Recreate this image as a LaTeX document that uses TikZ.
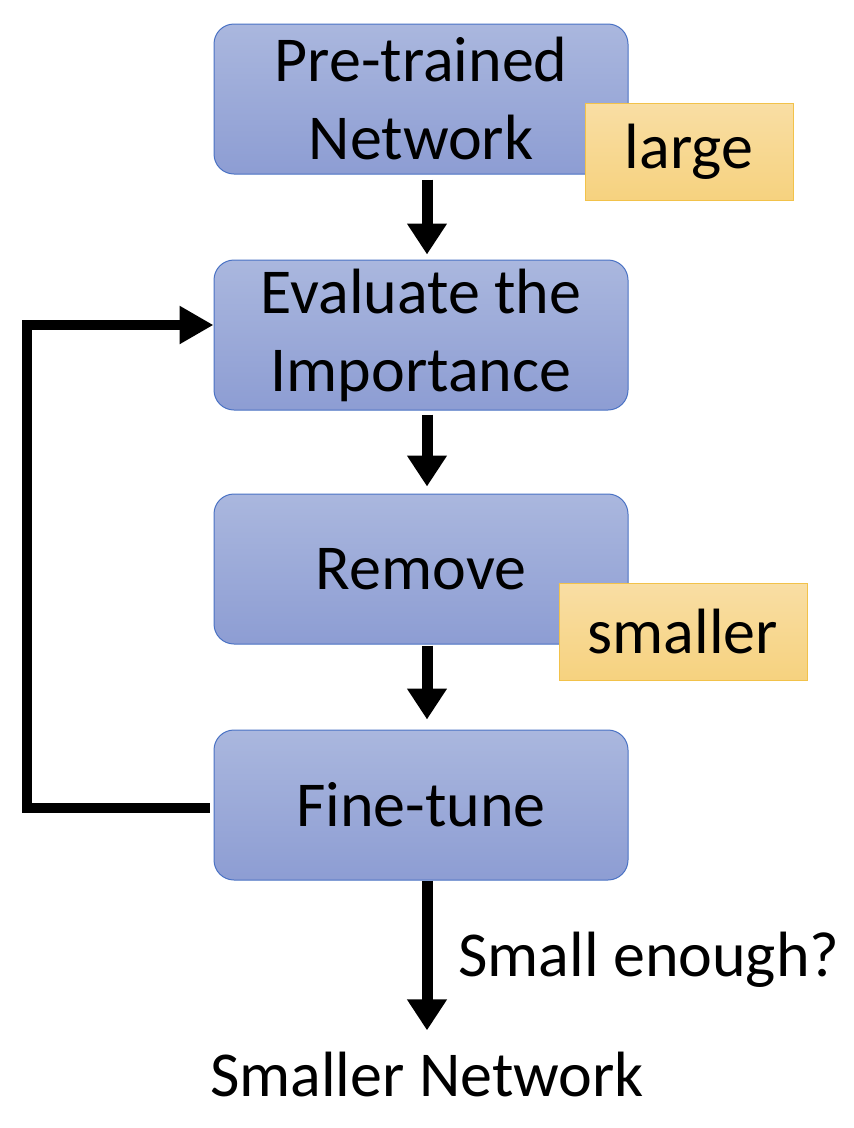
\documentclass[tikz,border=0pt]{standalone}
\usepackage{fontspec}
\setmainfont{Carlito}
\usetikzlibrary{arrows.meta}
\definecolor{boxtop}{HTML}{AAB7DE}
\definecolor{boxbot}{HTML}{8D9DD3}
\definecolor{boxedge}{HTML}{4A72C4}
\definecolor{ytop}{HTML}{F9DEA4}
\definecolor{ybot}{HTML}{F6D27F}
\definecolor{yedge}{HTML}{F2C24A}
\tikzset{
  stepbox/.style={draw=boxedge, line width=1pt, rounded corners=20pt,
    top color=boxtop, bottom color=boxbot, minimum width=414pt, minimum height=150pt,
    align=center, inner sep=0pt, font=\fontsize{64}{78}\selectfont},
  tagbox/.style={draw=yedge, line width=1pt, top color=ytop, bottom color=ybot,
    minimum height=97pt, inner sep=0pt, font=\fontsize{64}{76}\selectfont},
  lbl/.style={inner sep=0pt, font=\fontsize{64}{76}\selectfont},
  arr/.style={line width=11pt, -{Triangle[length=31pt,width=38pt]}},
}
\begin{document}
\begin{tikzpicture}[x=1pt,y=-1pt]
\useasboundingbox (0,0) rectangle (854,1128);
\node[stepbox] (b1) at (421,99) {Pre-trained\\Network};
\node[stepbox] (b2) at (421,335) {Evaluate the\\Importance};
\node[stepbox] (b3) at (421,569) {Remove};
\node[stepbox] (b4) at (421,805) {Fine-tune};
\node[tagbox, minimum width=208pt] (t1) at (689,151.5) {\raisebox{-4pt}{large}};
\node[tagbox, minimum width=248pt] (t2) at (683,631.5) {smaller};
\node[lbl] (out) at (427,1075) {Smaller Network};
\node[lbl, anchor=west] (q) at (458,960) {Small enough?};
\coordinate (loopx) at (27,0);
\draw[arr] ([xshift=6pt,yshift=-5pt]b1.south) -- ([xshift=6pt,yshift=5pt]b2.north);
\draw[arr] ([xshift=6pt,yshift=-4pt]b2.south) -- ([xshift=6pt,yshift=7pt]b3.north);
\draw[arr] ([xshift=6pt,yshift=-1pt]b3.south) -- ([xshift=6pt,yshift=10pt]b4.north);
\draw[arr] ([xshift=6pt]b4.south) -- ([xshift=0pt,yshift=22pt]out.north);
\draw[arr, line width=10pt, -{Triangle[length=34pt,width=36pt]}]
  ([xshift=-4pt,yshift=-3pt]b4.west) -| ([yshift=10pt]loopx |- b2.west) -- ([yshift=10pt]b2.west);
\end{tikzpicture}
\end{document}
